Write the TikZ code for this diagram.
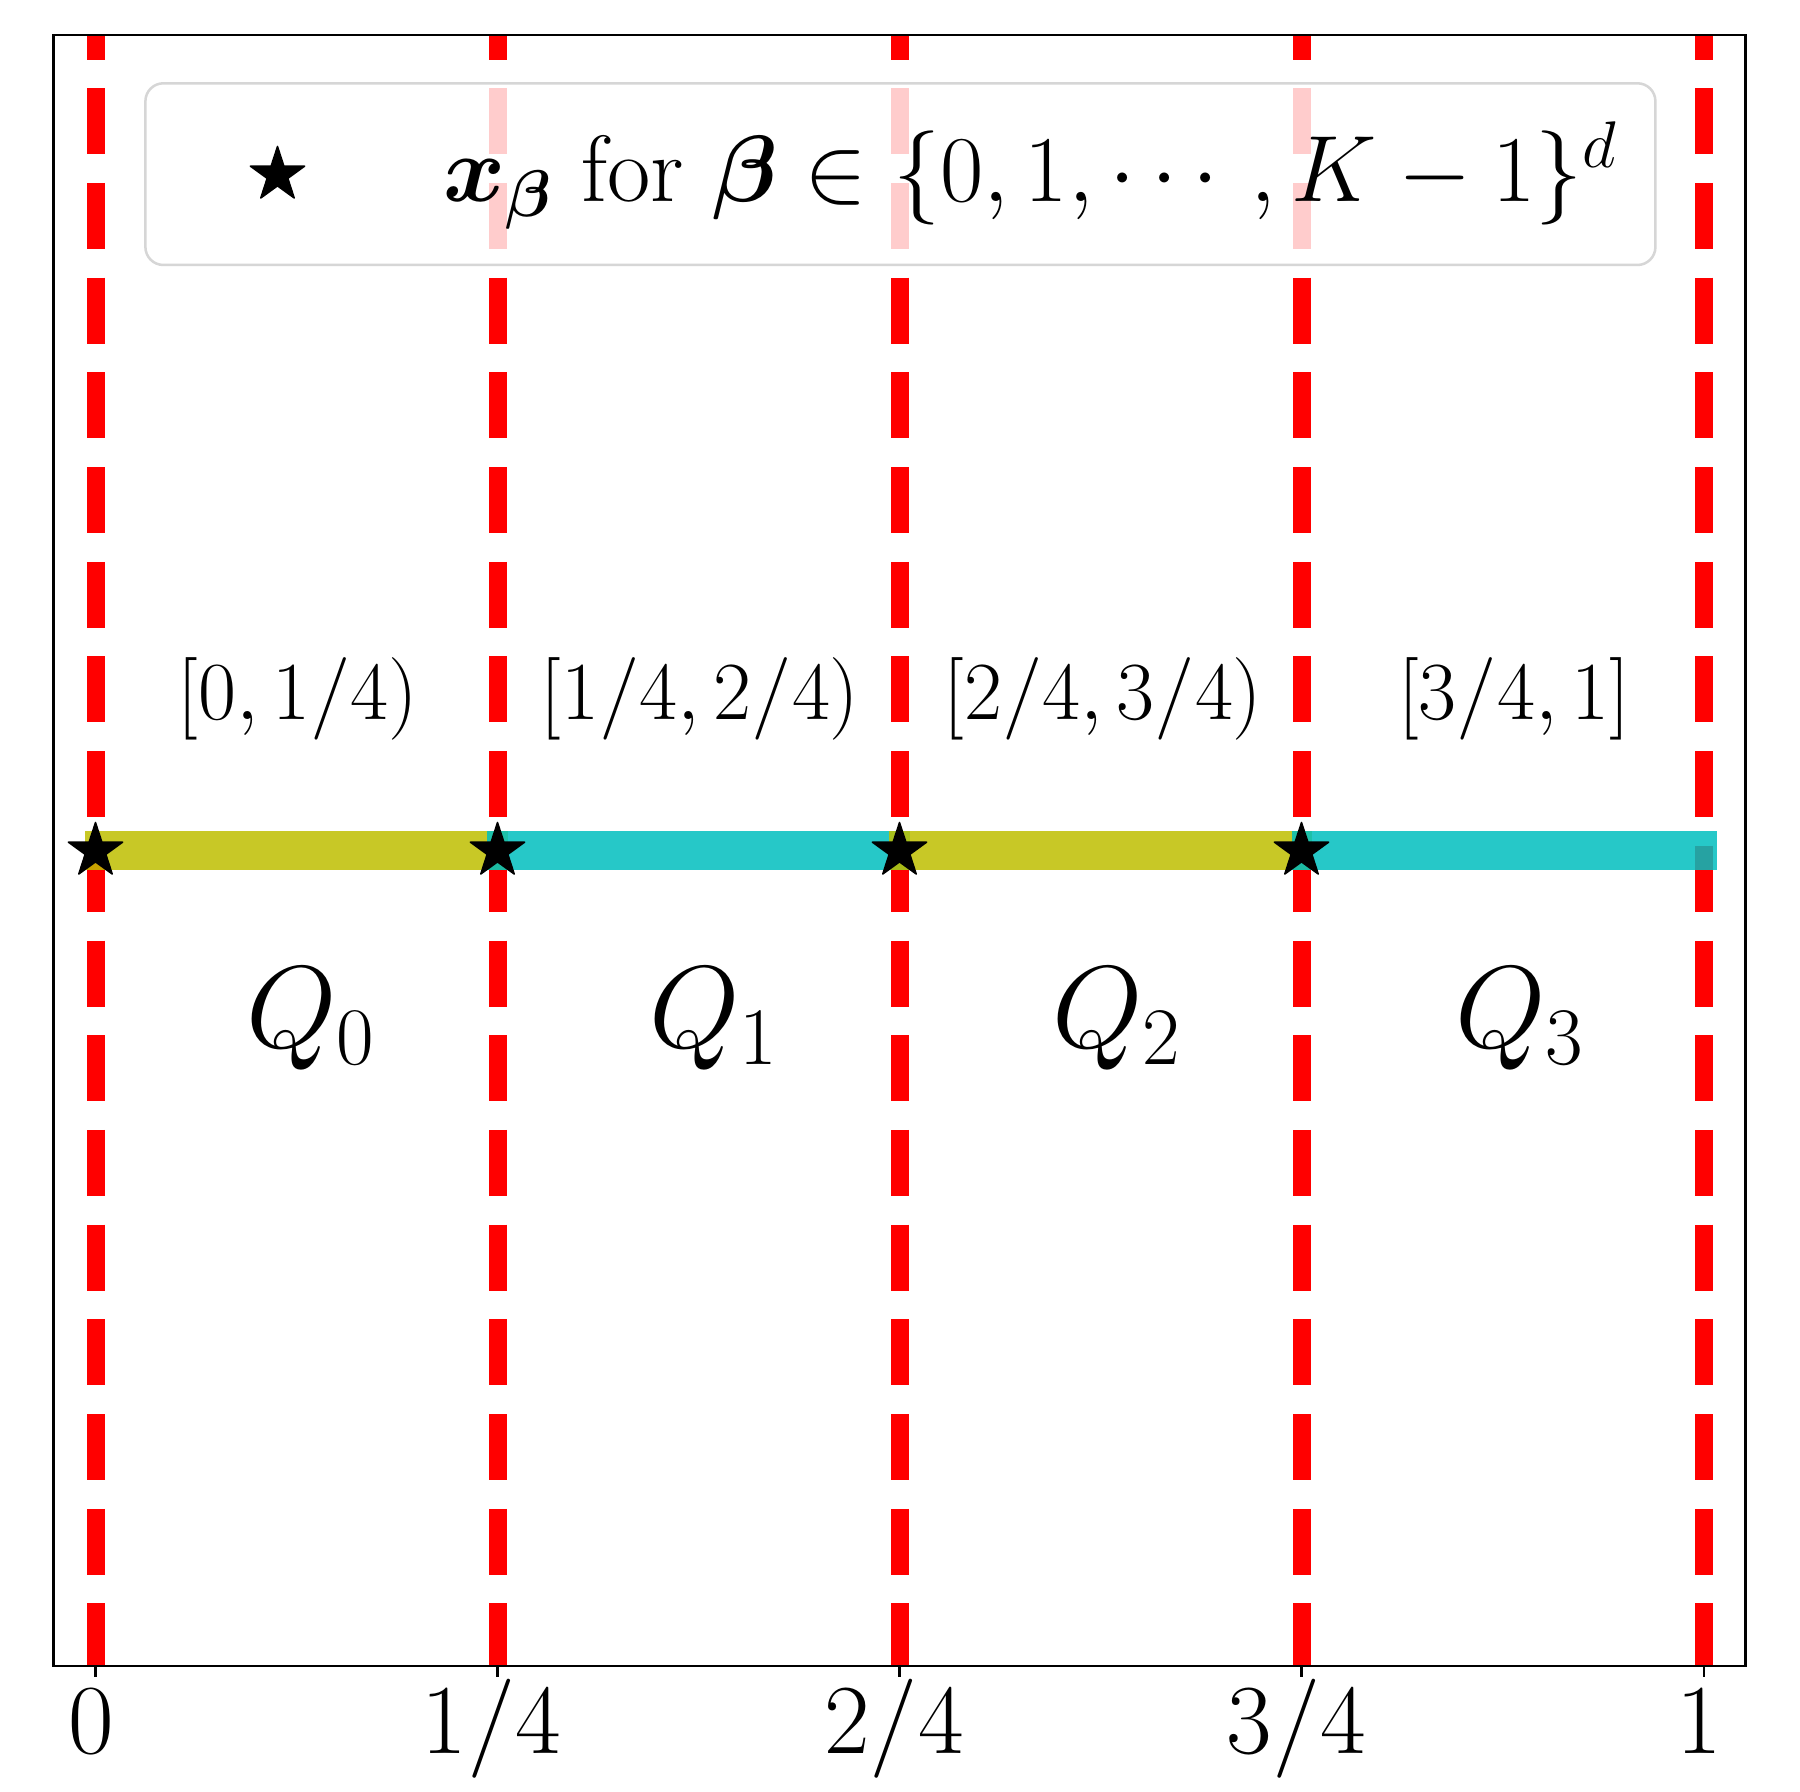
\RequirePackage{fix-cm}
\documentclass[tikz,border=0pt]{standalone}
\usepackage{amsmath,bm}
\definecolor{olivec}{RGB}{191,191,0}
\definecolor{cyanc}{RGB}{0,191,191}
\definecolor{legedge}{RGB}{214,214,214}
\begin{document}
\begin{tikzpicture}[x=0.1mm,y=-0.1mm,
  redline/.style={draw=red, line width=1.8mm, dash pattern=on 6.6mm off 2.87mm, line cap=butt},
  barseg/.style={line width=3.9mm, draw opacity=0.85, line cap=butt},
  frame/.style={draw=black, line width=0.27mm},
  tickmark/.style={draw=black, line width=0.25mm},
  ticklabel/.style={anchor=base, inner sep=0pt, font=\fontsize{28.2}{32}\selectfont},
  intlabel/.style={anchor=base, inner sep=0pt, font=\fontsize{23.5}{27}\selectfont},
  qlabel/.style={anchor=base, inner sep=0pt, font=\fontsize{33.2}{37}\selectfont},
  leglabel/.style={anchor=base west, inner sep=0pt, font=\fontsize{26.8}{30}\selectfont},
  mstar/.pic={\filldraw[black, line width=0.15mm, line join=round]
    (-90:28.5) -- (-54:10.9) -- (-18:28.5) -- (18:10.9) -- (54:28.5) -- (90:10.9)
    -- (126:28.5) -- (162:10.9) -- (198:28.5) -- (234:10.9) -- cycle;}]
\useasboundingbox (0,0) rectangle (1800,1792);
\fill[white] (0,0) rectangle (1800,1792);

% dashed red partition lines
\begin{scope}
  \clip (53.6,35) rectangle (1745.3,1666);
  \foreach \x in {95.5,497.5,899.5,1301.5,1704}{
    \draw[redline] (\x,-6.4) -- (\x,1700);
  }
\end{scope}

% coloured bar segments
\coordinate (b0s) at (85,851);   \coordinate (b0e) at (508,851);
\coordinate (b1s) at (487,851);  \coordinate (b1e) at (910,851);
\coordinate (b2s) at (889,851);  \coordinate (b2e) at (1312,851);
\coordinate (b3s) at (1292,851); \coordinate (b3e) at (1717,851);
\draw[barseg, draw=olivec] (b0s) -- (b0e);
\draw[barseg, draw=cyanc] (b1s) -- (b1e);
\draw[barseg, draw=olivec] (b2s) -- (b2e);
\draw[barseg, draw=cyanc] (b3s) -- (b3e);

% stars
\foreach \x in {95.5,497.5,899.5,1301.5}{
  \pic at (\x,851) {mstar};
}

% interval labels
\node[intlabel] (i0) at (298,720) {$[0,1/4)$};
\node[intlabel] (i1) at (700,720) {$[1/4,2/4)$};
\node[intlabel] (i2) at (1103,720) {$[2/4,3/4)$};
\node[intlabel] (i3) at (1514,720) {$[3/4,1]$};

% Q labels
\node[qlabel] (q0) at (311,1047) {$Q_0$};
\node[qlabel] (q1) at (714,1047) {$Q_1$};
\node[qlabel] (q2) at (1117,1047) {$Q_2$};
\node[qlabel] (q3) at (1520,1047) {$Q_3$};

% legend
\filldraw[fill=white, fill opacity=0.8, draw=legedge, line width=0.25mm, rounded corners=1.8mm]
  (145.4,83.3) rectangle (1655.4,265);
\pic at (277.5,175) {mstar};
\node[leglabel] (leg) at (443,202) {$\bm{x}_{\bm{\beta}}$ for $\bm{\beta}\in\{0,1,\cdots,K-1\}^d$};

% axes frame, ticks and tick labels
\draw[frame] (53.6,35) rectangle (1745.3,1666);
\foreach \x in {95.5,497.5,899.5,1301.5,1704}{
  \draw[tickmark] (\x,1666) -- (\x,1676.5);
}
\node[ticklabel] (t0) at (91.5,1753) {$0$};
\node[ticklabel] (t1) at (491.5,1753) {$1/4$};
\node[ticklabel] (t2) at (894,1753) {$2/4$};
\node[ticklabel] (t3) at (1296.5,1753) {$3/4$};
\node[ticklabel] (t4) at (1699,1753) {$1$};
\end{tikzpicture}
\end{document}
